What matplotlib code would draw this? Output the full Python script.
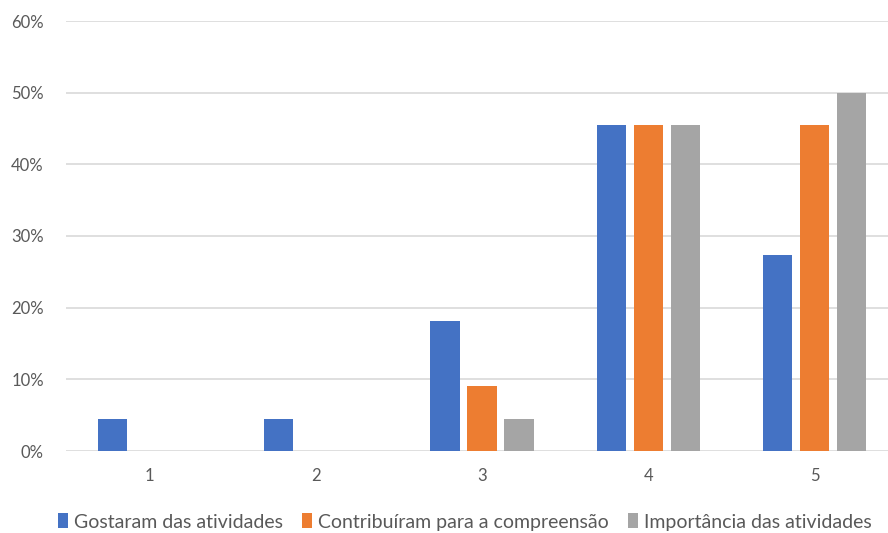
import numpy as np
import matplotlib
matplotlib.use("Agg")
import matplotlib.pyplot as plt
from matplotlib.ticker import PercentFormatter

plt.rcParams['font.family'] = ['Lato', 'DejaVu Sans']

categories = ['1', '2', '3', '4', '5']
gostaram = [4.5, 4.5, 18.2, 45.5, 27.3]
contribuiram = [0.0, 0.0, 9.1, 45.5, 45.5]
importancia = [0.0, 0.0, 4.5, 45.5, 50.0]

series = [
    ('Gostaram das atividades', gostaram, '#4472C4'),
    ('Contribuíram para a compreensão', contribuiram, '#ED7D31'),
    ('Importância das atividades', importancia, '#A5A5A5'),
]

text_color = '#595959'
grid_color = '#D9D9D9'

fig = plt.figure(figsize=(8.88, 5.33), dpi=100)
# plot area runs a little past the right edge of the figure
ax = fig.add_axes([66 / 888, (533 - 451) / 533, 832 / 888, 430 / 533])

x = np.arange(len(categories))
step = 0.222
width = 0.175
for i, (label, vals, color) in enumerate(series):
    ax.bar(x + (i - 1) * step, vals, width, color=color, label=label, zorder=3)

ax.set_xlim(-0.5, len(categories) - 0.5)
ax.set_ylim(0, 60)
ax.set_yticks(np.arange(0, 61, 10))
ax.yaxis.set_major_formatter(PercentFormatter(decimals=0))
ax.set_xticks(x)
ax.set_xticklabels(categories)

ax.grid(axis='y', color=grid_color, linewidth=1.2, zorder=0)
for s in ax.spines.values():
    s.set_visible(False)
ax.tick_params(axis='both', length=0, colors=text_color, labelsize=12)
ax.tick_params(axis='y', pad=16)
ax.tick_params(axis='x', pad=12)

leg = fig.legend(loc='center', bbox_to_anchor=(465 / 888, (533 - 522) / 533),
                 ncol=3, frameon=False, fontsize=14, handlelength=0.5,
                 handleheight=0.8, handletextpad=0.3, columnspacing=1.0)
for t in leg.get_texts():
    t.set_color(text_color)

fig.savefig('out.png', dpi=100)
